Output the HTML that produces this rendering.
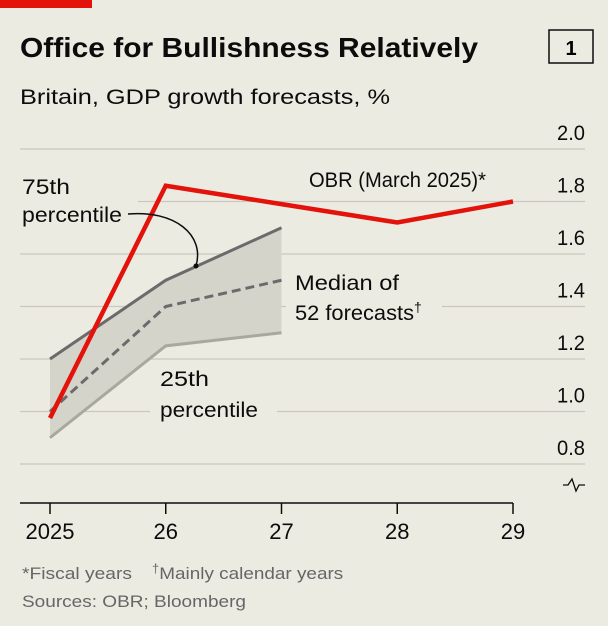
<!DOCTYPE html>
<html><head><meta charset="utf-8"><style>
body{margin:0;background:#ecebe2;}
svg{display:block;font-family:"Liberation Sans",sans-serif;}
</style></head><body>
<svg width="608" height="626" viewBox="0 0 608 626">
<rect width="608" height="626" fill="#ecebe2"/>
<rect x="0" y="0" width="92" height="8" fill="#e3120b"/>
<text x="20" y="57" font-size="28" font-weight="bold" fill="#0c0c0c" textLength="458" lengthAdjust="spacingAndGlyphs">Office for Bullishness Relatively</text>
<rect x="549" y="30" width="44" height="33" fill="none" stroke="#0c0c0c" stroke-width="1.5"/>
<text x="571" y="55" font-size="20" font-weight="bold" text-anchor="middle">1</text>
<text x="20" y="104" font-size="21" fill="#0c0c0c" textLength="370" lengthAdjust="spacingAndGlyphs">Britain, GDP growth forecasts, %</text>
<g id="grid"></g>
<g id="marks"></g>
<g id="labels"></g>
<path d="M563 485 L568 485 L572 479 L576 491 L579 485 L585 485" fill="none" stroke="#0c0c0c" stroke-width="1.3"/>
<text x="22" y="579" font-size="17" fill="#666" textLength="110" lengthAdjust="spacingAndGlyphs">*Fiscal years</text>
<text x="152" y="579" font-size="17" fill="#666"><tspan font-size="13" dy="-6">†</tspan><tspan dy="6" textLength="184" lengthAdjust="spacingAndGlyphs">Mainly calendar years</tspan></text>
<text x="22" y="607" font-size="17" fill="#666" textLength="224" lengthAdjust="spacingAndGlyphs">Sources: OBR; Bloomberg</text>
</svg>
<script>
const years=["2025","26","27","28","29"];
const yTicks=[2.0,1.8,1.6,1.4,1.2,1.0,0.8];
const obr=[0.975,1.86,1.79,1.72,1.8];
const p75=[1.2,1.5,1.7];
const median=[1.0,1.4,1.5];
const p25=[0.9,1.25,1.3];
const NS="http://www.w3.org/2000/svg";
function X(i){return 50+i*115.75;}
function Y(v){return 149+(2.0-v)*262.5;}
function el(tag,attrs,parent){const e=document.createElementNS(NS,tag);for(const k in attrs)e.setAttribute(k,attrs[k]);document.getElementById(parent).appendChild(e);return e;}
function pts(arr){return arr.map((v,i)=>X(i)+","+Y(v)).join(" ");}
yTicks.forEach(t=>{
  let segs=[[20,585]];
  if(Math.abs(t-1.8)<1e-9) segs=[[138,585]];
  if(Math.abs(t-1.0)<1e-9) segs=[[20,150],[277,585]];
  if(Math.abs(t-1.4)<1e-9) segs=[[20,286],[442,585]];
  segs.forEach(s=>{
    const g=el("line",{x1:s[0],x2:s[1],y1:Y(t),y2:Y(t),stroke:"#c9c8bf","stroke-width":1.3},"grid");
    
    
  });
  const l=el("text",{x:585,y:Y(t)-9,"font-size":21,"text-anchor":"end",fill:"#0c0c0c",textLength:28,lengthAdjust:"spacingAndGlyphs"},"labels");
  l.textContent=t.toFixed(1);
  
  
});
const base=el("line",{x1:20,x2:X(4),y1:503,y2:503,stroke:"#0c0c0c","stroke-width":1.5},"grid");


years.forEach((yr,i)=>{
  const t=el("line",{x1:X(i),x2:X(i),y1:503,y2:514,stroke:"#0c0c0c","stroke-width":1.5},"grid");
  
  
  const l=el("text",{x:X(i),y:539,"font-size":22,"text-anchor":"middle",fill:"#0c0c0c"},"labels");
  l.textContent=yr;
  
  
});
const band=p75.map((v,i)=>X(i)+","+Y(v)).concat(p25.map((v,i)=>[i,v]).reverse().map(([i,v])=>X(i)+","+Y(v))).join(" ");
const b=el("polygon",{points:band,fill:"#d5d4cb"},"marks");


const l25=el("polyline",{points:pts(p25),fill:"none",stroke:"#a9a89f","stroke-width":3},"marks");


const l75=el("polyline",{points:pts(p75),fill:"none",stroke:"#6b6b6b","stroke-width":3},"marks");


const lm=el("polyline",{points:pts(median),fill:"none",stroke:"#6b6b6b","stroke-width":3,"stroke-dasharray":"9,5"},"marks");


const lo=el("polyline",{points:pts(obr),fill:"none",stroke:"#e3120b","stroke-width":4.5},"marks");


const ann=[["75th",22,194,48],["percentile",22,222,100],["OBR (March 2025)*",309,187,177],["Median of",295,290,104],["25th",160,386,49],["percentile",160,417,98]];
ann.forEach(a=>{const t=el("text",{x:a[1],y:a[2],"font-size":21,fill:"#0c0c0c",textLength:a[3],lengthAdjust:"spacingAndGlyphs"},"labels");t.textContent=a[0];

});
const f=el("text",{x:295,y:320,"font-size":21,fill:"#0c0c0c"},"labels");
f.innerHTML='<tspan textLength="119" lengthAdjust="spacingAndGlyphs">52 forecasts</tspan><tspan font-size="14" dy="-8">†</tspan>';


const c=el("path",{d:"M128 214 C175 210 205 235 196 266",fill:"none",stroke:"#0c0c0c","stroke-width":1.5},"labels");


const d=el("circle",{cx:196,cy:266,r:2.5,fill:"#0c0c0c"},"labels");


</script>
</body></html>
